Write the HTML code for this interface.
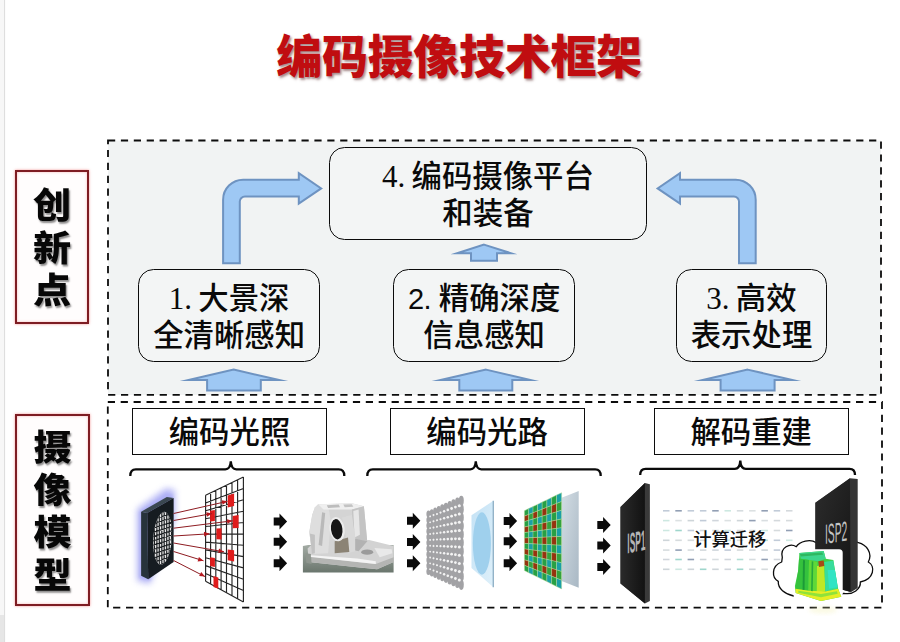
<!DOCTYPE html>
<html lang="zh-CN">
<head>
<meta charset="utf-8">
<title>编码摄像技术框架</title>
<style>
html,body{margin:0;padding:0;background:#fff;}
body{width:900px;height:642px;overflow:hidden;position:relative;font-family:"Liberation Sans","Noto Sans CJK SC",sans-serif;}
#stage{position:absolute;left:0;top:0;width:900px;height:642px;overflow:hidden;background:#fff;}
#stage svg{position:absolute;left:0;top:0;}
.title{position:absolute;left:0;top:27.3px;width:918px;text-align:center;font-size:46px;line-height:60px;font-weight:900;color:#c00d10;letter-spacing:-0.3px;text-shadow:1.5px 2px 2.5px rgba(90,40,40,.55);white-space:nowrap;}
.vlabel{position:absolute;box-sizing:border-box;border:2.9px solid #7e1d23;background:#fffdfd;box-shadow:0 0 2.5px rgba(235,80,80,.6),inset 0 0 2.5px rgba(235,80,80,.45);}
.vlabel span{position:absolute;left:0;width:100%;text-align:center;font-size:37px;line-height:42px;height:42px;font-weight:900;color:#070707;text-shadow:1.2px 1.6px 1.8px rgba(0,0,0,.45);transform:scale(1.03,.945);transform-origin:50% 50%;}
.rbox{position:absolute;box-sizing:border-box;border:1.7px solid #0a0a0a;border-radius:15.5px;background:#f3f5f5;text-align:center;font-size:30.4px;line-height:36.1px;color:#0a0a0a;white-space:nowrap;font-weight:500;}
.rbox .n{font-family:"Liberation Serif",serif;font-size:31px;font-weight:400;margin-right:-1.5px;}
.rbox .ns{font-family:"Liberation Sans",sans-serif;font-size:29px;font-weight:400;letter-spacing:-0.5px;}
.lbox{position:absolute;box-sizing:border-box;border:1.7px solid #0c0c0c;background:#fff;text-align:center;font-size:30.4px;line-height:43px;padding-top:2.4px;color:#0a0a0a;white-space:nowrap;font-weight:500;}
.calc{position:absolute;left:691.7px;top:528px;width:76px;text-align:center;font-size:18.3px;line-height:24px;color:#111;font-weight:500;white-space:nowrap;}
</style>
</head>
<body>
<div id="stage">
<svg width="900" height="642" viewBox="0 0 900 642">
  <defs>
    <filter id="blur2" x="-30%" y="-30%" width="160%" height="160%"><feGaussianBlur stdDeviation="2.2"/></filter>
    <filter id="blur3" x="-50%" y="-50%" width="200%" height="200%"><feGaussianBlur stdDeviation="3"/></filter>
    <filter id="blur05" x="-10%" y="-10%" width="120%" height="120%"><feGaussianBlur stdDeviation="0.7"/></filter>
    <linearGradient id="paneg" x1="0" y1="0" x2="1" y2="1"><stop offset="0" stop-color="#d3dde4"/><stop offset="1" stop-color="#a9b8c4"/></linearGradient>
    <linearGradient id="ispg" x1="0" y1="0" x2="1" y2="0"><stop offset="0" stop-color="#2a2a2a"/><stop offset="1" stop-color="#121212"/></linearGradient>
    <linearGradient id="ispg2" x1="0" y1="0" x2="1" y2="1"><stop offset="0" stop-color="#2c2c2c"/><stop offset="1" stop-color="#151515"/></linearGradient>
    <linearGradient id="lensg" x1="0" y1="0" x2="1" y2="1"><stop offset="0" stop-color="#c4e2f5"/><stop offset="1" stop-color="#def0fa"/></linearGradient>
    <linearGradient id="tblg" x1="0" y1="0" x2="0" y2="1"><stop offset="0" stop-color="#a3aba4"/><stop offset="1" stop-color="#6a766d"/></linearGradient>
    <filter id="blur1" x="-30%" y="-30%" width="160%" height="160%"><feGaussianBlur stdDeviation="0.8"/></filter>
  </defs>
  <!-- left page strip -->
  <rect x="0" y="0" width="4.2" height="642" fill="#f7f7f7"/>
  <rect x="0" y="615" width="4.2" height="27" fill="#e6e6e6"/>
  <rect x="4" y="0" width="1.1" height="642" fill="#dedede"/>
  <!-- dashed frames -->
  <rect x="108" y="140.5" width="773" height="254.4" fill="#f1f3f3" stroke="#0c0c0c" stroke-width="1.8" stroke-dasharray="7.2 5.7"/>
  <rect x="107.8" y="402" width="774.2" height="205.6" fill="#fff" stroke="#0c0c0c" stroke-width="1.8" stroke-dasharray="7.2 5.7"/>
  <!-- ARROWS -->
  <g id="arrows" fill="#9ec8f4" stroke="#6e93c1" stroke-width="2" stroke-linejoin="miter" stroke-miterlimit="12">
    <path d="M223.1 263.2 V199.7 A20 20 0 0 1 243.1 179.7 H298.8 V173.1 L321.2 188.4 L298.8 203.6 V196.4 H245 A5.2 5.2 0 0 0 239.8 201.6 V263.2 Z"/>
    <path d="M755.7 263.2 V199.7 A20 20 0 0 0 735.7 179.7 H680 V173.1 L657.6 188.4 L680 203.6 V196.4 H733.8 A5.2 5.2 0 0 1 739 201.6 V263.2 Z"/>
    <path d="M484 244.6 L511 253.2 H497 V260.8 H471 V253.2 H457 Z"/>
    <path d="M233.6 369.6 L279.3 380 H260.8 V390.6 H207.1 V380 H188.5 Z"/>
    <path d="M486 369.6 L530.5 380 H512.3 V390.6 H459.3 V380 H440.5 Z"/>
    <path d="M747.6 369.6 L792.5 380 H774.6 V390.6 H720.6 V380 H702.6 Z"/>
  </g>
<path id="blk" fill="#0a0a0a" d="M273.7 517.5 h5.8 v-4 l7.6 8 l-7.6 8 v-4 h-5.8 z M273.7 537.8 h5.8 v-4 l7.6 8 l-7.6 8 v-4 h-5.8 z M273.7 559.3 h5.8 v-4 l7.6 8 l-7.6 8 v-4 h-5.8 z M407 516.8 h5.8 v-4 l7.6 8 l-7.6 8 v-4 h-5.8 z M407 537.9 h5.8 v-4 l7.6 8 l-7.6 8 v-4 h-5.8 z M407 559.3 h5.8 v-4 l7.6 8 l-7.6 8 v-4 h-5.8 z M503.7 517 h5.8 v-4 l7.6 8 l-7.6 8 v-4 h-5.8 z M503.7 537.2 h5.8 v-4 l7.6 8 l-7.6 8 v-4 h-5.8 z M503.7 559.2 h5.8 v-4 l7.6 8 l-7.6 8 v-4 h-5.8 z M597.3 521 h5.8 v-4 l7.6 8 l-7.6 8 v-4 h-5.8 z M597.3 541.6 h5.8 v-4 l7.6 8 l-7.6 8 v-4 h-5.8 z M597.3 563 h5.8 v-4 l7.6 8 l-7.6 8 v-4 h-5.8 z"/>
<path fill="none" stroke="#0a0a0a" stroke-width="2.3" stroke-linecap="butt" d="M130.3 475.9 Q130.3 469.4 135.8 469.4 H225.3 Q230.3 469.4 230.8 461.3 Q231.3 469.4 236.3 469.4 H338.8 Q344.3 469.4 344.3 475.9 M367.3 475.9 Q367.3 469.4 372.8 469.4 H470.3 Q475.3 469.4 475.8 461.3 Q476.3 469.4 481.3 469.4 H595.2 Q600.7 469.4 600.7 475.9 M640.2 475 Q640.2 468.8 645.7 468.8 H734.8 Q739.8 468.8 740.3 460.6 Q740.8 468.8 745.8 468.8 H849.5 Q855 468.8 855 475"/>
<g id="plate">
<path d="M137 509 L166 488 L175 490 L175 520 L150 584 L137 581 Z" fill="#9a9cf2" opacity=".72" filter="url(#blur3)"/>
<path d="M139 512 L166 493 L173 495 L173 520 L150 581 L139 578 Z" fill="#a8aaf4" opacity=".55" filter="url(#blur1)"/>
<polygon points="141.1,511.7 166.8,497.1 173.6,498 147.2,513" fill="#3a4750"/>
<polygon points="141.1,511.7 147.2,513 148.2,579.3 141.1,575.8" fill="#27333b"/>
<polygon points="147.2,513 173.6,498 173.6,562.1 148.2,579.3" fill="#161c21"/>
<clipPath id="cpl"><ellipse cx="162.6" cy="538.3" rx="9.3" ry="26.5" transform="rotate(4 162.6 538.3)"/></clipPath>
<g clip-path="url(#cpl)"><rect x="150" y="508" width="26" height="62" fill="#e9e9e9"/>
<path d="M147.1 508 V572 M149.6 508 V572 M152 508 V572 M154.4 508 V572 M156.9 508 V572 M159.3 508 V572 M161.8 508 V572 M164.2 508 V572 M166.7 508 V572 M169.2 508 V572 M171.6 508 V572 M174.1 508 V572 M176.5 508 V572 M178.9 508 V572 M150 516 L176 508 M150 520.3 L176 512.3 M150 524.6 L176 516.6 M150 528.9 L176 520.9 M150 533.2 L176 525.2 M150 537.5 L176 529.5 M150 541.8 L176 533.8 M150 546.1 L176 538.1 M150 550.4 L176 542.4 M150 554.7 L176 546.7 M150 559 L176 551 M150 563.3 L176 555.3 M150 567.6 L176 559.6 M150 571.9 L176 563.9 M150 576.2 L176 568.2 M150 580.5 L176 572.5" stroke="#1b1f22" stroke-width="1.15" fill="none"/></g>
</g>
<g id="grid">
<polygon points="205.6,495.2 243.4,477.1 243.4,602 205.6,581.2" fill="#fff"/>
<path d="M205.6 495.2 L205.6 581.2 M210.6 492.8 L210.6 584 M215.8 490.3 L215.8 586.8 M221.1 487.8 L221.1 589.7 M226.5 485.2 L226.5 592.7 M232 482.6 L232 595.7 M237.6 479.9 L237.6 598.8 M243.4 477.1 L243.4 602 M205.6 495.2 L243.4 477.1 M205.6 503 L243.4 488.5 M205.6 510.8 L243.4 499.8 M205.6 518.7 L243.4 511.2 M205.6 526.5 L243.4 522.5 M205.6 534.3 L243.4 533.9 M205.6 542.1 L243.4 545.2 M205.6 549.9 L243.4 556.6 M205.6 557.7 L243.4 567.9 M205.6 565.6 L243.4 579.3 M205.6 573.4 L243.4 590.6 M205.6 581.2 L243.4 602" stroke="#262626" stroke-width="1.15" fill="none"/>
<polygon points="227.7,495.5 234.1,493.5 234.1,505.9 227.7,507.4" fill="#df1c1c"/>
<polygon points="210.1,510.7 214.9,509.9 214.9,521 210.1,521.6" fill="#df1c1c"/>
<polygon points="232.7,515.9 238.6,515 238.6,527.9 232.7,528.3" fill="#df1c1c"/>
<polygon points="216.4,528.5 221.6,528.2 221.6,539.4 216.4,539.3" fill="#df1c1c"/>
<polygon points="227.7,549.4 234.1,550.2 234.1,561.4 227.7,560.2" fill="#df1c1c"/>
<polygon points="210.1,557.3 214.9,558.1 214.9,567 210.1,565.9" fill="#df1c1c"/>
<polygon points="213.5,576.1 218.3,577.6 218.3,588.8 213.5,587" fill="#df1c1c"/>
</g>
<path d="M173.6 513.5 L227.5 501.3 M173.6 520.5 L212 513.6 M173.6 528.2 L232.6 520.8 M173.6 536 L209.5 533.8 M173.6 543 L224 551.8 M173.6 551.5 L203.5 560.8 M173.6 560.5 L205 576.6" stroke="#8e1c22" stroke-width="1" fill="none"/>
<path d="M227.5 501.3 L221.6 500.3 L222.6 504.8 Z M212 513.6 L206.2 512.3 L207 516.8 Z M232.6 520.8 L226.9 519.2 L227.4 523.8 Z M209.5 533.8 L203.9 531.8 L204.2 536.4 Z M224 551.8 L219 548.6 L218.2 553.1 Z M203.5 560.8 L198.9 557 L197.6 561.4 Z M205 576.6 L201.2 572 L199.1 576.1 Z" fill="#b51a20"/>
<g id="metal" filter="url(#blur05)">
<polygon points="302.9,546 308.2,545.1 393.6,545.1 393.6,572.5 302.9,572.5" fill="url(#tblg)"/>
<polygon points="307.6,548.6 313.5,542.7 369.2,540 393.6,546 393.6,561.9 377.1,569.2 357.2,567.2 308.9,561.9" fill="#d3d3d3"/>
<polygon points="307.6,555.2 308.9,561.9 357.2,567.2 377.1,569.2 393.6,561.9 393.6,557.2 375.8,563.9 357.2,561.9 310.9,556.6" fill="#b4b5b3"/>
<polygon points="314.9,507.6 318.2,504.3 351.9,503.2 363.9,506.3 367.2,541.3 358.6,551.3 312.2,553.9 309.3,532.1 312.2,514.9" fill="#d4d4d4"/>
<polygon points="314.9,507.6 318.2,504.3 328.1,504.9 330.8,521.5 328.1,553.3 312.2,553.9 309.3,532.1 312.2,514.9" fill="#dedede"/>
<polygon points="318.2,504.3 351.9,503.2 363.9,506.3 351.9,509.6 323.5,509.6" fill="#efefef"/>
<polygon points="326.8,505.3 338.7,504.5 340,507.2 328.1,508" fill="#bdbdbd"/>
<polygon points="343.3,504.5 351.9,504.3 353.3,506.7 344.7,507.2" fill="#c3c3c3"/>
<polygon points="351.9,509.6 363.9,506.3 367.2,541.3 361.2,548 353.3,538.7" fill="#c4c4c4"/>
<polygon points="353.3,510.9 358.6,509.6 359.9,534.7 354.6,537.4" fill="#e6e6e6"/>
<polygon points="342,517.5 351.9,514.9 357.2,550.6 348,553.3 346.6,538.7" fill="#d9d9d9"/>
<polygon points="334.7,541.3 348,537.4 349.3,551.9 334.7,553.3" fill="#8b8374"/>
<polygon points="322.1,512.2 325.2,513 322.1,546 318.6,545.1" fill="#b9b9b9"/>
<polygon points="309.8,533.4 314.9,534.7 314.9,553.3 311.9,553.9" fill="#c2c2c2"/>
<polygon points="355.2,538.7 367.2,541.3 358.6,551.3 355.2,550.6" fill="#b2b2b2"/>
<polygon points="305.6,553.3 310.9,553.9 311.6,563.9 306.3,562.8" fill="#8f968f"/>
<ellipse cx="337.1" cy="529.2" rx="7.6" ry="12.2" transform="rotate(-8 337.1 529.2)" fill="#ececec"/>
<ellipse cx="336.7" cy="529.2" rx="5.7" ry="10.2" transform="rotate(-8 337.1 529.2)" fill="#141414"/>
<ellipse cx="367.2" cy="552.2" rx="6" ry="2.6" fill="#9b9b9b"/>
<polygon points="310.9,555.2 357.2,558.6 375.8,561.2 375.8,563.9 357.2,561.9 310.9,557" fill="#f4f4f4"/>
<polygon points="374.4,548 391.7,549.3 392.3,553.3 379.7,557.2" fill="#e9e9e9"/>
</g>
<g id="mla">
<g fill="#a2a2a5"><ellipse cx="428.5" cy="514.1" rx="2.1" ry="3.5"/><ellipse cx="431.8" cy="512.8" rx="2.1" ry="3.6"/><ellipse cx="435.2" cy="511.4" rx="2.1" ry="3.8"/><ellipse cx="438.8" cy="509.9" rx="2.2" ry="4"/><ellipse cx="442.3" cy="508.5" rx="2.2" ry="4.2"/><ellipse cx="446" cy="507" rx="2.3" ry="4.3"/><ellipse cx="449.7" cy="505.5" rx="2.3" ry="4.5"/><ellipse cx="453.5" cy="504" rx="2.4" ry="4.7"/><ellipse cx="457.4" cy="502.4" rx="2.4" ry="4.9"/><ellipse cx="461.3" cy="500.8" rx="2.5" ry="5.1"/><ellipse cx="428.5" cy="519.9" rx="2.1" ry="3.5"/><ellipse cx="431.8" cy="518.8" rx="2.1" ry="3.6"/><ellipse cx="435.2" cy="517.7" rx="2.1" ry="3.8"/><ellipse cx="438.8" cy="516.5" rx="2.2" ry="4"/><ellipse cx="442.3" cy="515.4" rx="2.2" ry="4.2"/><ellipse cx="446" cy="514.2" rx="2.3" ry="4.3"/><ellipse cx="449.7" cy="513" rx="2.3" ry="4.5"/><ellipse cx="453.5" cy="511.7" rx="2.4" ry="4.7"/><ellipse cx="457.4" cy="510.5" rx="2.4" ry="4.9"/><ellipse cx="461.3" cy="509.2" rx="2.5" ry="5.1"/><ellipse cx="428.5" cy="525.6" rx="2.1" ry="3.5"/><ellipse cx="431.8" cy="524.8" rx="2.1" ry="3.6"/><ellipse cx="435.2" cy="523.9" rx="2.1" ry="3.8"/><ellipse cx="438.8" cy="523.1" rx="2.2" ry="4"/><ellipse cx="442.3" cy="522.2" rx="2.2" ry="4.2"/><ellipse cx="446" cy="521.3" rx="2.3" ry="4.3"/><ellipse cx="449.7" cy="520.4" rx="2.3" ry="4.5"/><ellipse cx="453.5" cy="519.5" rx="2.4" ry="4.7"/><ellipse cx="457.4" cy="518.6" rx="2.4" ry="4.9"/><ellipse cx="461.3" cy="517.6" rx="2.5" ry="5.1"/><ellipse cx="428.5" cy="531.3" rx="2.1" ry="3.5"/><ellipse cx="431.8" cy="530.8" rx="2.1" ry="3.6"/><ellipse cx="435.2" cy="530.2" rx="2.1" ry="3.8"/><ellipse cx="438.8" cy="529.7" rx="2.2" ry="4"/><ellipse cx="442.3" cy="529.1" rx="2.2" ry="4.2"/><ellipse cx="446" cy="528.5" rx="2.3" ry="4.3"/><ellipse cx="449.7" cy="527.9" rx="2.3" ry="4.5"/><ellipse cx="453.5" cy="527.3" rx="2.4" ry="4.7"/><ellipse cx="457.4" cy="526.6" rx="2.4" ry="4.9"/><ellipse cx="461.3" cy="526" rx="2.5" ry="5.1"/><ellipse cx="428.5" cy="537.1" rx="2.1" ry="3.5"/><ellipse cx="431.8" cy="536.8" rx="2.1" ry="3.6"/><ellipse cx="435.2" cy="536.5" rx="2.1" ry="3.8"/><ellipse cx="438.8" cy="536.2" rx="2.2" ry="4"/><ellipse cx="442.3" cy="535.9" rx="2.2" ry="4.2"/><ellipse cx="446" cy="535.6" rx="2.3" ry="4.3"/><ellipse cx="449.7" cy="535.3" rx="2.3" ry="4.5"/><ellipse cx="453.5" cy="535" rx="2.4" ry="4.7"/><ellipse cx="457.4" cy="534.7" rx="2.4" ry="4.9"/><ellipse cx="461.3" cy="534.4" rx="2.5" ry="5.1"/><ellipse cx="428.5" cy="542.8" rx="2.1" ry="3.5"/><ellipse cx="431.8" cy="542.8" rx="2.1" ry="3.6"/><ellipse cx="435.2" cy="542.8" rx="2.1" ry="3.8"/><ellipse cx="438.8" cy="542.8" rx="2.2" ry="4"/><ellipse cx="442.3" cy="542.8" rx="2.2" ry="4.2"/><ellipse cx="446" cy="542.8" rx="2.3" ry="4.3"/><ellipse cx="449.7" cy="542.8" rx="2.3" ry="4.5"/><ellipse cx="453.5" cy="542.8" rx="2.4" ry="4.7"/><ellipse cx="457.4" cy="542.8" rx="2.4" ry="4.9"/><ellipse cx="461.3" cy="542.8" rx="2.5" ry="5.1"/><ellipse cx="428.5" cy="548.5" rx="2.1" ry="3.5"/><ellipse cx="431.8" cy="548.8" rx="2.1" ry="3.6"/><ellipse cx="435.2" cy="549.1" rx="2.1" ry="3.8"/><ellipse cx="438.8" cy="549.4" rx="2.2" ry="4"/><ellipse cx="442.3" cy="549.7" rx="2.2" ry="4.2"/><ellipse cx="446" cy="550" rx="2.3" ry="4.3"/><ellipse cx="449.7" cy="550.3" rx="2.3" ry="4.5"/><ellipse cx="453.5" cy="550.6" rx="2.4" ry="4.7"/><ellipse cx="457.4" cy="550.9" rx="2.4" ry="4.9"/><ellipse cx="461.3" cy="551.2" rx="2.5" ry="5.1"/><ellipse cx="428.5" cy="554.3" rx="2.1" ry="3.5"/><ellipse cx="431.8" cy="554.8" rx="2.1" ry="3.6"/><ellipse cx="435.2" cy="555.4" rx="2.1" ry="3.8"/><ellipse cx="438.8" cy="555.9" rx="2.2" ry="4"/><ellipse cx="442.3" cy="556.5" rx="2.2" ry="4.2"/><ellipse cx="446" cy="557.1" rx="2.3" ry="4.3"/><ellipse cx="449.7" cy="557.7" rx="2.3" ry="4.5"/><ellipse cx="453.5" cy="558.3" rx="2.4" ry="4.7"/><ellipse cx="457.4" cy="559" rx="2.4" ry="4.9"/><ellipse cx="461.3" cy="559.6" rx="2.5" ry="5.1"/><ellipse cx="428.5" cy="560" rx="2.1" ry="3.5"/><ellipse cx="431.8" cy="560.8" rx="2.1" ry="3.6"/><ellipse cx="435.2" cy="561.7" rx="2.1" ry="3.8"/><ellipse cx="438.8" cy="562.5" rx="2.2" ry="4"/><ellipse cx="442.3" cy="563.4" rx="2.2" ry="4.2"/><ellipse cx="446" cy="564.3" rx="2.3" ry="4.3"/><ellipse cx="449.7" cy="565.2" rx="2.3" ry="4.5"/><ellipse cx="453.5" cy="566.1" rx="2.4" ry="4.7"/><ellipse cx="457.4" cy="567" rx="2.4" ry="4.9"/><ellipse cx="461.3" cy="568" rx="2.5" ry="5.1"/><ellipse cx="428.5" cy="565.7" rx="2.1" ry="3.5"/><ellipse cx="431.8" cy="566.8" rx="2.1" ry="3.6"/><ellipse cx="435.2" cy="567.9" rx="2.1" ry="3.8"/><ellipse cx="438.8" cy="569.1" rx="2.2" ry="4"/><ellipse cx="442.3" cy="570.2" rx="2.2" ry="4.2"/><ellipse cx="446" cy="571.4" rx="2.3" ry="4.3"/><ellipse cx="449.7" cy="572.6" rx="2.3" ry="4.5"/><ellipse cx="453.5" cy="573.9" rx="2.4" ry="4.7"/><ellipse cx="457.4" cy="575.1" rx="2.4" ry="4.9"/><ellipse cx="461.3" cy="576.4" rx="2.5" ry="5.1"/><ellipse cx="428.5" cy="571.5" rx="2.1" ry="3.5"/><ellipse cx="431.8" cy="572.8" rx="2.1" ry="3.6"/><ellipse cx="435.2" cy="574.2" rx="2.1" ry="3.8"/><ellipse cx="438.8" cy="575.7" rx="2.2" ry="4"/><ellipse cx="442.3" cy="577.1" rx="2.2" ry="4.2"/><ellipse cx="446" cy="578.6" rx="2.3" ry="4.3"/><ellipse cx="449.7" cy="580.1" rx="2.3" ry="4.5"/><ellipse cx="453.5" cy="581.6" rx="2.4" ry="4.7"/><ellipse cx="457.4" cy="583.2" rx="2.4" ry="4.9"/><ellipse cx="461.3" cy="584.8" rx="2.5" ry="5.1"/></g>
<g fill="#f4f4f4"><circle cx="430.1" cy="516.4" r="0.9"/><circle cx="433.5" cy="515.1" r="1"/><circle cx="437" cy="513.9" r="1"/><circle cx="440.5" cy="512.6" r="1.1"/><circle cx="444.1" cy="511.3" r="1.2"/><circle cx="447.8" cy="509.9" r="1.3"/><circle cx="451.6" cy="508.5" r="1.4"/><circle cx="455.4" cy="507.1" r="1.4"/><circle cx="459.3" cy="505.7" r="1.5"/><circle cx="430.1" cy="522.3" r="0.9"/><circle cx="433.5" cy="521.3" r="1"/><circle cx="437" cy="520.3" r="1"/><circle cx="440.5" cy="519.3" r="1.1"/><circle cx="444.1" cy="518.3" r="1.2"/><circle cx="447.8" cy="517.2" r="1.3"/><circle cx="451.6" cy="516.2" r="1.4"/><circle cx="455.4" cy="515.1" r="1.4"/><circle cx="459.3" cy="514" r="1.5"/><circle cx="430.1" cy="528.1" r="0.9"/><circle cx="433.5" cy="527.4" r="1"/><circle cx="437" cy="526.7" r="1"/><circle cx="440.5" cy="526" r="1.1"/><circle cx="444.1" cy="525.3" r="1.2"/><circle cx="447.8" cy="524.5" r="1.3"/><circle cx="451.6" cy="523.8" r="1.4"/><circle cx="455.4" cy="523" r="1.4"/><circle cx="459.3" cy="522.2" r="1.5"/><circle cx="430.1" cy="534" r="0.9"/><circle cx="433.5" cy="533.6" r="1"/><circle cx="437" cy="533.2" r="1"/><circle cx="440.5" cy="532.7" r="1.1"/><circle cx="444.1" cy="532.3" r="1.2"/><circle cx="447.8" cy="531.8" r="1.3"/><circle cx="451.6" cy="531.4" r="1.4"/><circle cx="455.4" cy="530.9" r="1.4"/><circle cx="459.3" cy="530.4" r="1.5"/><circle cx="430.1" cy="539.9" r="0.9"/><circle cx="433.5" cy="539.7" r="1"/><circle cx="437" cy="539.6" r="1"/><circle cx="440.5" cy="539.4" r="1.1"/><circle cx="444.1" cy="539.3" r="1.2"/><circle cx="447.8" cy="539.1" r="1.3"/><circle cx="451.6" cy="539" r="1.4"/><circle cx="455.4" cy="538.8" r="1.4"/><circle cx="459.3" cy="538.7" r="1.5"/><circle cx="430.1" cy="545.7" r="0.9"/><circle cx="433.5" cy="545.9" r="1"/><circle cx="437" cy="546" r="1"/><circle cx="440.5" cy="546.2" r="1.1"/><circle cx="444.1" cy="546.3" r="1.2"/><circle cx="447.8" cy="546.5" r="1.3"/><circle cx="451.6" cy="546.6" r="1.4"/><circle cx="455.4" cy="546.8" r="1.4"/><circle cx="459.3" cy="546.9" r="1.5"/><circle cx="430.1" cy="551.6" r="0.9"/><circle cx="433.5" cy="552" r="1"/><circle cx="437" cy="552.4" r="1"/><circle cx="440.5" cy="552.9" r="1.1"/><circle cx="444.1" cy="553.3" r="1.2"/><circle cx="447.8" cy="553.8" r="1.3"/><circle cx="451.6" cy="554.2" r="1.4"/><circle cx="455.4" cy="554.7" r="1.4"/><circle cx="459.3" cy="555.2" r="1.5"/><circle cx="430.1" cy="557.5" r="0.9"/><circle cx="433.5" cy="558.2" r="1"/><circle cx="437" cy="558.9" r="1"/><circle cx="440.5" cy="559.6" r="1.1"/><circle cx="444.1" cy="560.3" r="1.2"/><circle cx="447.8" cy="561.1" r="1.3"/><circle cx="451.6" cy="561.8" r="1.4"/><circle cx="455.4" cy="562.6" r="1.4"/><circle cx="459.3" cy="563.4" r="1.5"/><circle cx="430.1" cy="563.3" r="0.9"/><circle cx="433.5" cy="564.3" r="1"/><circle cx="437" cy="565.3" r="1"/><circle cx="440.5" cy="566.3" r="1.1"/><circle cx="444.1" cy="567.3" r="1.2"/><circle cx="447.8" cy="568.4" r="1.3"/><circle cx="451.6" cy="569.4" r="1.4"/><circle cx="455.4" cy="570.5" r="1.4"/><circle cx="459.3" cy="571.6" r="1.5"/><circle cx="430.1" cy="569.2" r="0.9"/><circle cx="433.5" cy="570.5" r="1"/><circle cx="437" cy="571.7" r="1"/><circle cx="440.5" cy="573" r="1.1"/><circle cx="444.1" cy="574.3" r="1.2"/><circle cx="447.8" cy="575.7" r="1.3"/><circle cx="451.6" cy="577.1" r="1.4"/><circle cx="455.4" cy="578.5" r="1.4"/><circle cx="459.3" cy="579.9" r="1.5"/></g>
</g>
<g id="lens">
<polygon points="471.5,515.2 493.4,500.8 493.4,587.3 471.5,568" fill="url(#lensg)"/>
<path d="M493.3 500.8 V587.3" stroke="#93b3c8" stroke-width="1.4"/>
<ellipse cx="481.9" cy="543.5" rx="9" ry="31.2" fill="#9fd0ed"/>
</g>
<g id="cfa">
<polygon points="561.6,497.8 578.7,491 578.7,587.7 561.6,581" fill="url(#paneg)"/>
<polygon points="524.4,510.7 528.6,508.6 528.6,514.5 524.4,516.1" fill="#27a044"/>
<polygon points="528.6,508.6 533,506.5 533,512.7 528.6,514.5" fill="#1a9fa6"/>
<polygon points="533,506.5 537.5,504.4 537.5,511 533,512.7" fill="#27a044"/>
<polygon points="537.5,504.4 542.1,502.1 542.1,509.2 537.5,511" fill="#1a9fa6"/>
<polygon points="542.1,502.1 546.8,499.9 546.8,507.3 542.1,509.2" fill="#27a044"/>
<polygon points="546.8,499.9 551.6,497.5 551.6,505.4 546.8,507.3" fill="#1a9fa6"/>
<polygon points="551.6,497.5 556.5,495.1 556.5,503.4 551.6,505.4" fill="#27a044"/>
<polygon points="556.5,495.1 561.6,492.7 561.6,501.4 556.5,503.4" fill="#1a9fa6"/>
<polygon points="524.4,516.1 528.6,514.5 528.6,520.3 524.4,521.6" fill="#96330f"/>
<polygon points="528.6,514.5 533,512.7 533,519 528.6,520.3" fill="#34a23c"/>
<polygon points="533,512.7 537.5,511 537.5,517.6 533,519" fill="#96330f"/>
<polygon points="537.5,511 542.1,509.2 542.1,516.2 537.5,517.6" fill="#34a23c"/>
<polygon points="542.1,509.2 546.8,507.3 546.8,514.7 542.1,516.2" fill="#96330f"/>
<polygon points="546.8,507.3 551.6,505.4 551.6,513.3 546.8,514.7" fill="#34a23c"/>
<polygon points="551.6,505.4 556.5,503.4 556.5,511.7 551.6,513.3" fill="#96330f"/>
<polygon points="556.5,503.4 561.6,501.4 561.6,510.2 556.5,511.7" fill="#34a23c"/>
<polygon points="524.4,521.6 528.6,520.3 528.6,526.1 524.4,527" fill="#27a044"/>
<polygon points="528.6,520.3 533,519 533,525.2 528.6,526.1" fill="#1a9fa6"/>
<polygon points="533,519 537.5,517.6 537.5,524.2 533,525.2" fill="#27a044"/>
<polygon points="537.5,517.6 542.1,516.2 542.1,523.2 537.5,524.2" fill="#1a9fa6"/>
<polygon points="542.1,516.2 546.8,514.7 546.8,522.2 542.1,523.2" fill="#27a044"/>
<polygon points="546.8,514.7 551.6,513.3 551.6,521.1 546.8,522.2" fill="#1a9fa6"/>
<polygon points="551.6,513.3 556.5,511.7 556.5,520 551.6,521.1" fill="#27a044"/>
<polygon points="556.5,511.7 561.6,510.2 561.6,518.9 556.5,520" fill="#1a9fa6"/>
<polygon points="524.4,527 528.6,526.1 528.6,531.9 524.4,532.5" fill="#96330f"/>
<polygon points="528.6,526.1 533,525.2 533,531.4 528.6,531.9" fill="#34a23c"/>
<polygon points="533,525.2 537.5,524.2 537.5,530.8 533,531.4" fill="#96330f"/>
<polygon points="537.5,524.2 542.1,523.2 542.1,530.2 537.5,530.8" fill="#34a23c"/>
<polygon points="542.1,523.2 546.8,522.2 546.8,529.6 542.1,530.2" fill="#96330f"/>
<polygon points="546.8,522.2 551.6,521.1 551.6,529 546.8,529.6" fill="#34a23c"/>
<polygon points="551.6,521.1 556.5,520 556.5,528.3 551.6,529" fill="#96330f"/>
<polygon points="556.5,520 561.6,518.9 561.6,527.7 556.5,528.3" fill="#34a23c"/>
<polygon points="524.4,532.5 528.6,531.9 528.6,537.8 524.4,537.9" fill="#27a044"/>
<polygon points="528.6,531.9 533,531.4 533,537.6 528.6,537.8" fill="#1a9fa6"/>
<polygon points="533,531.4 537.5,530.8 537.5,537.4 533,537.6" fill="#27a044"/>
<polygon points="537.5,530.8 542.1,530.2 542.1,537.2 537.5,537.4" fill="#1a9fa6"/>
<polygon points="542.1,530.2 546.8,529.6 546.8,537 542.1,537.2" fill="#27a044"/>
<polygon points="546.8,529.6 551.6,529 551.6,536.8 546.8,537" fill="#1a9fa6"/>
<polygon points="551.6,529 556.5,528.3 556.5,536.6 551.6,536.8" fill="#27a044"/>
<polygon points="556.5,528.3 561.6,527.7 561.6,536.4 556.5,536.6" fill="#1a9fa6"/>
<polygon points="524.4,537.9 528.6,537.8 528.6,543.6 524.4,543.4" fill="#96330f"/>
<polygon points="528.6,537.8 533,537.6 533,543.8 528.6,543.6" fill="#34a23c"/>
<polygon points="533,537.6 537.5,537.4 537.5,544 533,543.8" fill="#96330f"/>
<polygon points="537.5,537.4 542.1,537.2 542.1,544.2 537.5,544" fill="#34a23c"/>
<polygon points="542.1,537.2 546.8,537 546.8,544.5 542.1,544.2" fill="#96330f"/>
<polygon points="546.8,537 551.6,536.8 551.6,544.7 546.8,544.5" fill="#34a23c"/>
<polygon points="551.6,536.8 556.5,536.6 556.5,544.9 551.6,544.7" fill="#96330f"/>
<polygon points="556.5,536.6 561.6,536.4 561.6,545.2 556.5,544.9" fill="#34a23c"/>
<polygon points="524.4,543.4 528.6,543.6 528.6,549.4 524.4,548.8" fill="#27a044"/>
<polygon points="528.6,543.6 533,543.8 533,550 528.6,549.4" fill="#1a9fa6"/>
<polygon points="533,543.8 537.5,544 537.5,550.6 533,550" fill="#27a044"/>
<polygon points="537.5,544 542.1,544.2 542.1,551.2 537.5,550.6" fill="#1a9fa6"/>
<polygon points="542.1,544.2 546.8,544.5 546.8,551.9 542.1,551.2" fill="#27a044"/>
<polygon points="546.8,544.5 551.6,544.7 551.6,552.5 546.8,551.9" fill="#1a9fa6"/>
<polygon points="551.6,544.7 556.5,544.9 556.5,553.2 551.6,552.5" fill="#27a044"/>
<polygon points="556.5,544.9 561.6,545.2 561.6,553.9 556.5,553.2" fill="#1a9fa6"/>
<polygon points="524.4,548.8 528.6,549.4 528.6,555.2 524.4,554.3" fill="#96330f"/>
<polygon points="528.6,549.4 533,550 533,556.2 528.6,555.2" fill="#34a23c"/>
<polygon points="533,550 537.5,550.6 537.5,557.2 533,556.2" fill="#96330f"/>
<polygon points="537.5,550.6 542.1,551.2 542.1,558.3 537.5,557.2" fill="#34a23c"/>
<polygon points="542.1,551.2 546.8,551.9 546.8,559.3 542.1,558.3" fill="#96330f"/>
<polygon points="546.8,551.9 551.6,552.5 551.6,560.4 546.8,559.3" fill="#34a23c"/>
<polygon points="551.6,552.5 556.5,553.2 556.5,561.5 551.6,560.4" fill="#96330f"/>
<polygon points="556.5,553.2 561.6,553.9 561.6,562.7 556.5,561.5" fill="#34a23c"/>
<polygon points="524.4,554.3 528.6,555.2 528.6,561 524.4,559.7" fill="#27a044"/>
<polygon points="528.6,555.2 533,556.2 533,562.4 528.6,561" fill="#1a9fa6"/>
<polygon points="533,556.2 537.5,557.2 537.5,563.8 533,562.4" fill="#27a044"/>
<polygon points="537.5,557.2 542.1,558.3 542.1,565.3 537.5,563.8" fill="#1a9fa6"/>
<polygon points="542.1,558.3 546.8,559.3 546.8,566.7 542.1,565.3" fill="#27a044"/>
<polygon points="546.8,559.3 551.6,560.4 551.6,568.3 546.8,566.7" fill="#1a9fa6"/>
<polygon points="551.6,560.4 556.5,561.5 556.5,569.8 551.6,568.3" fill="#27a044"/>
<polygon points="556.5,561.5 561.6,562.7 561.6,571.4 556.5,569.8" fill="#1a9fa6"/>
<polygon points="524.4,559.7 528.6,561 528.6,566.9 524.4,565.2" fill="#96330f"/>
<polygon points="528.6,561 533,562.4 533,568.6 528.6,566.9" fill="#34a23c"/>
<polygon points="533,562.4 537.5,563.8 537.5,570.4 533,568.6" fill="#96330f"/>
<polygon points="537.5,563.8 542.1,565.3 542.1,572.3 537.5,570.4" fill="#34a23c"/>
<polygon points="542.1,565.3 546.8,566.7 546.8,574.2 542.1,572.3" fill="#96330f"/>
<polygon points="546.8,566.7 551.6,568.3 551.6,576.1 546.8,574.2" fill="#34a23c"/>
<polygon points="551.6,568.3 556.5,569.8 556.5,578.1 551.6,576.1" fill="#96330f"/>
<polygon points="556.5,569.8 561.6,571.4 561.6,580.2 556.5,578.1" fill="#34a23c"/>
<polygon points="524.4,565.2 528.6,566.9 528.6,572.7 524.4,570.6" fill="#27a044"/>
<polygon points="528.6,566.9 533,568.6 533,574.8 528.6,572.7" fill="#1a9fa6"/>
<polygon points="533,568.6 537.5,570.4 537.5,577 533,574.8" fill="#27a044"/>
<polygon points="537.5,570.4 542.1,572.3 542.1,579.3 537.5,577" fill="#1a9fa6"/>
<polygon points="542.1,572.3 546.8,574.2 546.8,581.6 542.1,579.3" fill="#27a044"/>
<polygon points="546.8,574.2 551.6,576.1 551.6,584 546.8,581.6" fill="#1a9fa6"/>
<polygon points="551.6,576.1 556.5,578.1 556.5,586.4 551.6,584" fill="#27a044"/>
<polygon points="556.5,578.1 561.6,580.2 561.6,588.9 556.5,586.4" fill="#1a9fa6"/>
<path d="M524.4 510.7 L524.4 570.6 M528.6 508.6 L528.6 572.7 M533 506.5 L533 574.8 M537.5 504.4 L537.5 577 M542.1 502.1 L542.1 579.3 M546.8 499.9 L546.8 581.6 M551.6 497.5 L551.6 584 M556.5 495.1 L556.5 586.4 M561.6 492.7 L561.6 588.9 M524.4 510.7 L561.6 492.7 M524.4 516.1 L561.6 501.4 M524.4 521.6 L561.6 510.2 M524.4 527 L561.6 518.9 M524.4 532.5 L561.6 527.7 M524.4 537.9 L561.6 536.4 M524.4 543.4 L561.6 545.2 M524.4 548.8 L561.6 553.9 M524.4 554.3 L561.6 562.7 M524.4 559.7 L561.6 571.4 M524.4 565.2 L561.6 580.2 M524.4 570.6 L561.6 588.9" stroke="#b9dc9a" stroke-width=".5" fill="none"/>
</g>
<g id="isp1">
<polygon points="620.5,507.1 644.9,483.1 649.9,484.2 649.9,600.9 644.9,603.6 620.5,583.5" fill="#3a3a3a"/>
<polygon points="620.5,507.1 644.9,483.1 644.9,603.6 620.5,583.5" fill="url(#ispg)"/>
<text transform="matrix(0.64 -0.14 0 1.9 627.3 553.6)" font-family="Liberation Sans, sans-serif" font-weight="700" font-size="15" fill="#b4b4b4" textLength="28.5" lengthAdjust="spacingAndGlyphs">ISP1</text>
</g>
<g id="dashes" filter="url(#blur05)" opacity=".85"><rect x="663" y="510" width="6.5" height="1.6" fill="#b7c2d2"/><rect x="675.3" y="510" width="6.5" height="1.6" fill="#7f8fa8"/><rect x="687.6" y="510" width="6.5" height="1.6" fill="#b7c2d2"/><rect x="699.9" y="510" width="6.5" height="1.6" fill="#b7c2d2"/><rect x="712.2" y="510" width="6.5" height="1.6" fill="#7f8fa8"/><rect x="724.5" y="510" width="6.5" height="1.6" fill="#c5e4dc"/><rect x="736.8" y="510" width="6.5" height="1.6" fill="#d0d6da"/><rect x="749.1" y="510" width="6.5" height="1.6" fill="#d6dcde"/><rect x="761.4" y="510" width="6.5" height="1.6" fill="#7f8fa8"/><rect x="773.7" y="510" width="6.5" height="1.6" fill="#b7c2d2"/><rect x="786" y="510" width="6.5" height="1.6" fill="#cdd3d7"/><rect x="663" y="519.8" width="6.5" height="1.6" fill="#c5e4dc"/><rect x="675.3" y="519.8" width="6.5" height="1.6" fill="#d6dcde"/><rect x="687.6" y="519.8" width="6.5" height="1.6" fill="#c6ced3"/><rect x="699.9" y="519.8" width="6.5" height="1.6" fill="#b7c2d2"/><rect x="712.2" y="519.8" width="6.5" height="1.6" fill="#c9d0d6"/><rect x="724.5" y="519.8" width="6.5" height="1.6" fill="#d6dcde"/><rect x="736.8" y="519.8" width="6.5" height="1.6" fill="#c6ced3"/><rect x="749.1" y="519.8" width="6.5" height="1.6" fill="#7f8fa8"/><rect x="761.4" y="519.8" width="6.5" height="1.6" fill="#d3d9dc"/><rect x="773.7" y="519.8" width="6.5" height="1.6" fill="#cdd3d7"/><rect x="786" y="519.8" width="6.5" height="1.6" fill="#cfd5d8"/><rect x="663" y="529.7" width="6.5" height="1.6" fill="#c5e4dc"/><rect x="675.3" y="529.7" width="6.5" height="1.6" fill="#8fcfc4"/><rect x="687.6" y="529.7" width="6.5" height="1.6" fill="#b7c2d2"/><rect x="699.9" y="529.7" width="6.5" height="1.6" fill="#cdd3d7"/><rect x="712.2" y="529.7" width="6.5" height="1.6" fill="#d3d9dc"/><rect x="724.5" y="529.7" width="6.5" height="1.6" fill="#c5e4dc"/><rect x="736.8" y="529.7" width="6.5" height="1.6" fill="#cdd3d7"/><rect x="749.1" y="529.7" width="6.5" height="1.6" fill="#d6dcde"/><rect x="761.4" y="529.7" width="6.5" height="1.6" fill="#c5e4dc"/><rect x="773.7" y="529.7" width="6.5" height="1.6" fill="#cfd5d8"/><rect x="786" y="529.7" width="6.5" height="1.6" fill="#7f8fa8"/><rect x="663" y="539.5" width="6.5" height="1.6" fill="#c6ced3"/><rect x="675.3" y="539.5" width="6.5" height="1.6" fill="#cfd5d8"/><rect x="687.6" y="539.5" width="6.5" height="1.6" fill="#cfd5d8"/><rect x="699.9" y="539.5" width="6.5" height="1.6" fill="#d0d6da"/><rect x="712.2" y="539.5" width="6.5" height="1.6" fill="#d0d6da"/><rect x="724.5" y="539.5" width="6.5" height="1.6" fill="#c5e4dc"/><rect x="736.8" y="539.5" width="6.5" height="1.6" fill="#cfd5d8"/><rect x="749.1" y="539.5" width="6.5" height="1.6" fill="#b7c2d2"/><rect x="761.4" y="539.5" width="6.5" height="1.6" fill="#a9d9cf"/><rect x="773.7" y="539.5" width="6.5" height="1.6" fill="#b7c2d2"/><rect x="786" y="539.5" width="6.5" height="1.6" fill="#c5e4dc"/><rect x="663" y="549.3" width="6.5" height="1.6" fill="#d0d6da"/><rect x="675.3" y="549.3" width="6.5" height="1.6" fill="#7f8fa8"/><rect x="687.6" y="549.3" width="6.5" height="1.6" fill="#d0d6da"/><rect x="699.9" y="549.3" width="6.5" height="1.6" fill="#cdd3d7"/><rect x="712.2" y="549.3" width="6.5" height="1.6" fill="#c9d0d6"/><rect x="724.5" y="549.3" width="6.5" height="1.6" fill="#b7c2d2"/><rect x="736.8" y="549.3" width="6.5" height="1.6" fill="#cfd5d8"/><rect x="749.1" y="549.3" width="6.5" height="1.6" fill="#cdd3d7"/><rect x="761.4" y="549.3" width="6.5" height="1.6" fill="#c6ced3"/><rect x="773.7" y="549.3" width="6.5" height="1.6" fill="#b7c2d2"/><rect x="786" y="549.3" width="6.5" height="1.6" fill="#cdd3d7"/><rect x="663" y="558.7" width="6.5" height="1.6" fill="#c9d0d6"/><rect x="675.3" y="558.7" width="6.5" height="1.6" fill="#8fcfc4"/><rect x="687.6" y="558.7" width="6.5" height="1.6" fill="#7f8fa8"/><rect x="699.9" y="558.7" width="6.5" height="1.6" fill="#c6ced3"/><rect x="712.2" y="558.7" width="6.5" height="1.6" fill="#d3d9dc"/><rect x="724.5" y="558.7" width="6.5" height="1.6" fill="#c9d0d6"/><rect x="736.8" y="558.7" width="6.5" height="1.6" fill="#a9d9cf"/><rect x="749.1" y="558.7" width="6.5" height="1.6" fill="#d0d6da"/><rect x="761.4" y="558.7" width="6.5" height="1.6" fill="#7f8fa8"/><rect x="773.7" y="558.7" width="6.5" height="1.6" fill="#c9d0d6"/><rect x="786" y="558.7" width="6.5" height="1.6" fill="#cfd5d8"/><rect x="663" y="568.5" width="6.5" height="1.6" fill="#c6ced3"/><rect x="675.3" y="568.5" width="6.5" height="1.6" fill="#c5e4dc"/><rect x="687.6" y="568.5" width="6.5" height="1.6" fill="#c6ced3"/><rect x="699.9" y="568.5" width="6.5" height="1.6" fill="#8fcfc4"/><rect x="712.2" y="568.5" width="6.5" height="1.6" fill="#c6ced3"/><rect x="724.5" y="568.5" width="6.5" height="1.6" fill="#c9d0d6"/><rect x="736.8" y="568.5" width="6.5" height="1.6" fill="#8fcfc4"/><rect x="749.1" y="568.5" width="6.5" height="1.6" fill="#c6ced3"/><rect x="761.4" y="568.5" width="6.5" height="1.6" fill="#cfd5d8"/><rect x="773.7" y="568.5" width="6.5" height="1.6" fill="#cdd3d7"/><rect x="786" y="568.5" width="6.5" height="1.6" fill="#cfd5d8"/></g>
<path id="cloud" d="M782.3 557.3 C779.7 547.3 790.3 542.7 796.3 546.7 C799.7 541.3 810.3 538.7 816.3 542.7 C825 535.3 847.7 535.3 858.3 542.7 C866.3 544.7 873 552.7 868.3 562 C875.7 566 874.3 579.3 860.3 582 C861 588.7 853 595.3 843.7 593.3 C834.3 600.7 805 602 793.7 596 C785 594 777.7 588.7 778.3 581.3 C771.7 578 771 566 781.7 562 Z" fill="#fff" stroke="#0c0c0c" stroke-width="1.3" stroke-linejoin="round"/>
<g id="isp2">
<polygon points="815.4,502.7 850,478.2 857.7,478.9 857.7,588.1 851.2,592 815.4,582.2" fill="#353535"/>
<polygon points="815.4,502.7 850,478.2 850.6,592 815.4,582.2" fill="url(#ispg2)"/>
<text transform="matrix(0.62 -0.1 0 1.85 825 544)" font-family="Liberation Sans, sans-serif" font-weight="400" font-size="15" fill="#c4c4c4" textLength="36" lengthAdjust="spacingAndGlyphs">ISP2</text>
</g>
<g id="result">
<rect x="793.7" y="549.3" width="49" height="51.6" rx="3.5" fill="#fff"/>
<g filter="url(#blur05)">
<polygon points="799.4,552.9 823.7,551.1 825.7,558.7 833.3,560 838.1,588.7 841.3,596.7 821,600.9 795.7,592.9 794.9,586 798.3,570" fill="#3fd048"/>
<polygon points="799.4,552.9 823.7,551.1 825.7,558.7 818.3,561.3 801,558.7" fill="#3ed68c"/>
<polygon points="799,558.7 809,560 808.3,590.7 795.4,588.7 798.3,570" fill="#34c23c"/>
<polygon points="809,560 817.3,562 816.7,592 808.3,590.7" fill="#5fd838"/>
<polygon points="817,566 824.3,564.9 825.3,591.6 816.7,592.4" fill="#bfe826"/>
<polygon points="824.3,562 833.3,560.4 837.7,588.7 825.3,591.3" fill="#38dc9c"/>
<polygon points="827.7,570 835,570 837.7,587.3 829,588.7" fill="#30e4c4"/>
<polygon points="795.4,588.7 809,590.7 825.3,591.6 838.1,588.7 841.3,596.7 821,600.9 795.7,592.9" fill="#e6ee26"/>
<polygon points="798.3,590.7 821,594 837,591.3 837.7,593.7 821,597.3 798.3,592.7" fill="#8fe23a"/>
<polygon points="818.3,561.3 823.7,560.4 824.3,566 819,567.1" fill="#a84818"/>
<polygon points="803,560 805,560.3 804.5,590 802.6,589.7" fill="#1f9a38"/>
<polygon points="811.7,561.3 813.3,561.6 812.7,591.3 811.1,591.1" fill="#27a83c"/>
<polygon points="799.9,554 822.3,552.4 823.1,554.8 800.7,556.4" fill="#2fb860"/>
</g>
<ellipse cx="823" cy="610" rx="14" ry="3.5" fill="#f3f0b0" opacity=".35" filter="url(#blur2)"/>
</g>

</svg>

<div class="title">编码摄像技术框架</div>

<div class="vlabel" style="left:15px;top:170px;width:74.3px;height:153.7px;">
  <span style="top:14.2px;">创</span><span style="top:56.7px;">新</span><span style="top:99.2px;">点</span>
</div>
<div class="vlabel" style="left:15px;top:413.9px;width:75px;height:192.3px;">
  <span style="top:12.2px;">摄</span><span style="top:54.7px;">像</span><span style="top:97.2px;">模</span><span style="top:139.7px;">型</span>
</div>

<div class="rbox" style="left:328.75px;top:147.25px;width:318.4px;height:93px;padding-top:9.9px;"><span class="n">4. </span>编码摄像平台<br>和装备</div>
<div class="rbox" style="left:138.25px;top:268.75px;width:181.8px;height:93.5px;padding-top:9.9px;"><span class="n">1. </span>大景深<br>全清晰感知</div>
<div class="rbox" style="left:393.25px;top:268.75px;width:181.8px;height:93.5px;padding-top:9.9px;"><span class="ns">2. </span>精确深度<br>信息感知</div>
<div class="rbox" style="left:675.75px;top:268.75px;width:151.5px;height:93.5px;padding-top:9.9px;"><span class="n">3. </span>高效<br>表示处理</div>

<div class="lbox" style="left:132px;top:408px;width:195px;height:47px;">编码光照</div>
<div class="lbox" style="left:389.6px;top:408px;width:195px;height:47px;">编码光路</div>
<div class="lbox" style="left:653.6px;top:408px;width:195.2px;height:47px;">解码重建</div>

<div class="calc">计算迁移</div>
</div>
</body>
</html>
